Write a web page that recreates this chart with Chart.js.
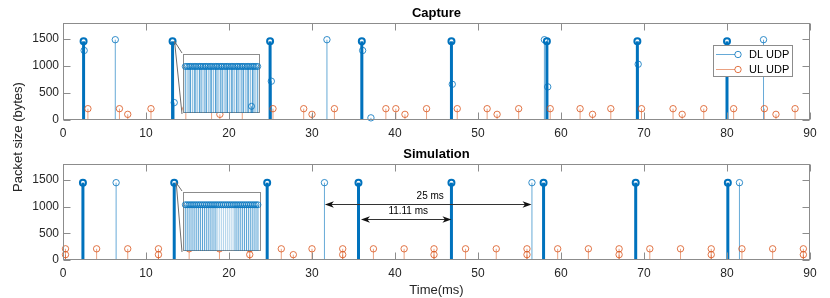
<!DOCTYPE html>
<html lang="en">
<head>
  <meta charset="UTF-8">
  <title>DL / UL UDP packets - capture vs simulation</title>
  <style>
    body { margin: 0; background: #fff; }
    #wrap { position: relative; width: 830px; height: 298px; }
    #wrap canvas { position: absolute; left: 0; top: 0; }
  </style>
  <script src="https://cdn.jsdelivr.net/npm/chart.js"></script>
</head>
<body>
  <div id="wrap">
    <canvas id="capChart" width="830" height="298"></canvas>
    <canvas id="simChart" width="830" height="298"></canvas>
    <canvas id="capInset"></canvas>
    <canvas id="simInset"></canvas>
  </div>

  <script>
    const xTicks = [0, 10, 20, 30, 40, 50, 60, 70, 80, 90];
    const yTicks = [0, 500, 1000, 1500];
    const seriesNames = ['DL UDP', 'UL UDP'];

    // Capture: DL bursts (many packets stacked), other DL packets, UL packets
    const capBurstT = [2.48, 13.2, 24.95, 36.0, 46.8, 58.3, 69.2, 80.0];
    const capBurstSize = [1460, 1460, 1460, 1460, 1460, 1460, 1460, 1460];
    const capDlT = [6.3, 31.8, 58.0, 84.4, 2.55, 13.4, 25.1, 36.1, 37.1, 46.9, 58.4, 69.3];
    const capDlSize = [1490, 1490, 1490, 1490, 1290, 323, 720, 1290, 40, 663, 615, 1035];
    const capUlT = [3.0, 6.8, 7.8, 10.6, 14.8, 17.9, 18.9, 21.6, 25.3, 29.0, 30.0, 32.7, 38.9, 40.1, 41.2, 43.8,
                    47.5, 51.1, 52.3, 54.9, 58.7, 62.3, 63.8, 66.0, 69.7, 73.5, 74.6, 77.2, 80.8, 84.5, 85.9, 88.2];
    const capUlSize = [210, 210, 105, 210, 210, 210, 105, 210, 210, 210, 105, 210, 210, 210, 105, 210,
                       210, 210, 105, 210, 210, 210, 105, 210, 210, 210, 105, 210, 210, 210, 105, 210];

    // Simulation
    const simBurstT = [2.4, 13.4, 24.6, 35.6, 46.8, 57.9, 69.0, 80.1];
    const simBurstSize = [1450, 1450, 1450, 1450, 1450, 1450, 1450, 1450];
    const simDlT = [6.4, 31.5, 56.5, 81.5];
    const simDlSize = [1450, 1450, 1450, 1450];
    const simUlT = [0.3, 4.05, 7.8, 11.5, 15.2, 18.85, 22.5, 26.3, 30.0, 33.7, 37.4, 41.1, 44.7, 48.5, 52.2,
                    55.9, 59.6, 63.3, 67.0, 70.7, 74.4, 78.1, 81.8, 85.5, 89.2,
                    0.3, 11.5, 22.5, 27.75, 33.7, 44.7, 55.9, 67.0, 78.1, 89.2];
    const simUlSize = [210, 210, 210, 210, 210, 210, 210, 210, 210, 210, 210, 210, 210, 210, 210,
                       210, 210, 210, 210, 210, 210, 210, 210, 210, 210,
                       100, 100, 100, 100, 100, 100, 100, 100, 100, 100];

    // period annotations on the simulation panel
    const arrowFrom = [31.55, 35.9];
    const arrowTo = [56.45, 46.8];
    const arrowAt = [1050, 760];
    const arrowText = ['25 ms', '11.11 ms'];

    // zoomed view of one burst (relative position inside the burst, 0..100)
    const capInsetT = [2, 4.5, 7, 9, 11.5, 14, 16, 18.5, 21, 23, 25.5, 28, 30, 32.5, 35, 37, 39.5, 42, 44, 46.5, 49,
                       51, 53.5, 56, 58, 60.5, 63, 65, 67.5, 70, 72, 74.5, 77, 79, 81.5, 84, 86, 88.5, 91, 93, 95.5, 98, 89.8];
    const capInsetSize = [1460, 1460, 1460, 1460, 1460, 1460, 1460, 1460, 1460, 1460, 1460, 1460, 1460, 1460, 1460,
                          1460, 1460, 1460, 1460, 1460, 1460, 1460, 1460, 1460, 1460, 1460, 1460, 1460, 1460, 1460,
                          1460, 1460, 1460, 1460, 1460, 1460, 1460, 1460, 1460, 1460, 1460, 1460, 210];
    const simInsetT = [2, 4.5, 7, 9.5, 12, 14.5, 17, 19.5, 22, 24.5, 27, 29.5, 32, 34.5, 37, 39.5, 42, 44.5, 47, 49.5,
                       52, 54.5, 57, 59.5, 62, 64.5, 67, 69.5, 72, 74.5, 77, 79.5, 82, 84.5, 87, 89.5, 92, 94.5, 97];
    const simInsetSize = [1450, 1450, 1450, 1450, 1450, 1450, 1450, 1450, 1450, 1450, 1450, 1450, 1450,
                          1450, 1450, 1450, 1450, 1450, 1450, 1450, 1450, 1450, 1450, 1450, 1450, 1450,
                          1450, 1450, 1450, 1450, 1450, 1450, 1450, 1450, 1450, 1450, 1450, 1450, 1450];

    const FONT = '"Liberation Sans", Arial, Helvetica, sans-serif';
    const AXIS = '#8c8c8c';
    const TEXT = '#262626';
    const BLUE = '#0072BD';
    const BLUE_THIN = 'rgba(0,114,189,0.6)';
    const BLUE_MARK = 'rgba(0,114,189,0.8)';
    const ORANGE_THIN = 'rgba(217,83,25,0.55)';
    const ORANGE_MARK = 'rgba(217,83,25,0.8)';

    const capInsetBox = { left: 182, top: 53, width: 79, height: 61 };
    const simInsetBox = { left: 182, top: 191, width: 80, height: 61 };

    const pts = (t, v) => t.map((x, i) => ({ x: x, y: v[i] }));

    // vertical stem from y=0 up to each point
    const stemPlugin = {
      id: 'stems',
      beforeDatasetsDraw(chart) {
        const ctx = chart.ctx;
        const base = chart.scales.y.getPixelForValue(0);
        chart.data.datasets.forEach((ds, i) => {
          const meta = chart.getDatasetMeta(i);
          ctx.save();
          ctx.lineWidth = ds.stemWidth || 1;
          meta.data.forEach((p, j) => {
            ctx.strokeStyle = typeof ds.stemColor === 'function' ? ds.stemColor(j) : ds.stemColor;
            ctx.beginPath();
            ctx.moveTo(p.x, base);
            ctx.lineTo(p.x, p.y);
            ctx.stroke();
          });
          ctx.restore();
        });
      }
    };

    // box with inward ticks on all four sides
    const axesBox = {
      id: 'axesBox',
      afterDraw(chart) {
        const { ctx, chartArea: a, scales: { x, y } } = chart;
        const L = a.left + 0.5, R = a.right - 0.5, T = a.top + 0.5, B = a.bottom - 0.5;
        ctx.save();
        ctx.strokeStyle = AXIS;
        ctx.lineWidth = 1;
        ctx.strokeRect(L, T, R - L, B - T);
        ctx.beginPath();
        xTicks.forEach(v => {
          const px = Math.round(x.getPixelForValue(v)) + 0.5;
          ctx.moveTo(px, B); ctx.lineTo(px, B - 7);
          ctx.moveTo(px, T); ctx.lineTo(px, T + 7);
        });
        yTicks.forEach(v => {
          const py = Math.round(y.getPixelForValue(v)) + 0.5;
          ctx.moveTo(L, py); ctx.lineTo(L + 7, py);
          ctx.moveTo(R, py); ctx.lineTo(R - 7, py);
        });
        ctx.stroke();
        ctx.restore();
      }
    };

    function panelText(title, drawMore) {
      return {
        id: 'panelText',
        afterDraw(chart) {
          const { ctx, chartArea: a } = chart;
          ctx.save();
          ctx.fillStyle = '#000';
          ctx.font = 'bold 13px ' + FONT;
          ctx.textAlign = 'center';
          ctx.textBaseline = 'middle';
          ctx.fillText(title, (a.left + a.right) / 2, a.top - 10);
          ctx.restore();
          if (drawMore) drawMore(chart);
        }
      };
    }

    // lines from the burst marker to the inset's left corners
    function connector(chart, burstIndex, box) {
      const p = chart.getDatasetMeta(0).data[burstIndex];
      const ctx = chart.ctx;
      ctx.save();
      ctx.strokeStyle = '#6e6e6e';
      ctx.lineWidth = 1;
      ctx.beginPath();
      ctx.moveTo(p.x + 2, p.y);
      ctx.lineTo(box.left, box.top);
      ctx.moveTo(p.x + 2, p.y);
      ctx.lineTo(box.left, box.top + box.height);
      ctx.stroke();
      ctx.restore();
    }

    function stemSets(burstT, burstV, dlT, dlV, ulT, ulV) {
      return [
        { data: pts(burstT, burstV), stemColor: BLUE, stemWidth: 3, pointRadius: 3, pointBorderWidth: 2,
          pointBorderColor: BLUE, pointBackgroundColor: 'rgba(0,0,0,0)', clip: false },
        { data: pts(dlT, dlV), stemColor: BLUE_THIN, stemWidth: 1, pointRadius: 3.2, pointBorderWidth: 1,
          pointBorderColor: BLUE_MARK, pointBackgroundColor: 'rgba(0,0,0,0)', clip: false },
        { data: pts(ulT, ulV), stemColor: ORANGE_THIN, stemWidth: 1, pointRadius: 3.2, pointBorderWidth: 1,
          pointBorderColor: ORANGE_MARK, pointBackgroundColor: 'rgba(0,0,0,0)', clip: false }
      ];
    }

    function mainOptions(padTop, padBottom, axisH) {
      return {
        responsive: false,
        animation: false,
        events: [],
        layout: { padding: { top: padTop, right: 20, bottom: padBottom, left: 0 } },
        plugins: { legend: { display: false }, tooltip: { enabled: false } },
        scales: {
          x: {
            type: 'linear', min: 0, max: 90,
            grid: { display: false, drawTicks: false }, border: { display: false },
            ticks: { padding: 6, color: TEXT, autoSkip: false, maxRotation: 0, font: { size: 12, family: FONT },
                     callback: v => String(v) },
            afterBuildTicks: s => { s.ticks = xTicks.map(v => ({ value: v })); },
            afterFit: s => { s.height = axisH; }
          },
          y: {
            min: 0, max: 1800,
            grid: { display: false, drawTicks: false }, border: { display: false },
            ticks: { padding: 4, color: TEXT, font: { size: 12, family: FONT }, callback: v => String(v) },
            afterBuildTicks: s => { s.ticks = yTicks.map(v => ({ value: v })); },
            afterFit: s => { s.width = 63; }
          }
        }
      };
    }

    // Capture panel
    new Chart(document.getElementById('capChart'), {
      type: 'scatter',
      data: { datasets: stemSets(capBurstT, capBurstSize, capDlT, capDlSize, capUlT, capUlSize) },
      options: mainOptions(23, 158, 20),
      plugins: [stemPlugin, axesBox, panelText('Capture', chart => {
        connector(chart, 1, capInsetBox);
        const ctx = chart.ctx;
        ctx.save();
        ctx.fillStyle = '#fff';
        ctx.strokeStyle = AXIS;
        ctx.lineWidth = 1;
        ctx.fillRect(713.5, 45.5, 79, 31);
        ctx.strokeRect(713.5, 45.5, 79, 31);
        [[BLUE_THIN, BLUE_MARK], [ORANGE_THIN, ORANGE_MARK]].forEach((c, i) => {
          const yy = 54.5 + i * 15;
          ctx.strokeStyle = c[0];
          ctx.beginPath(); ctx.moveTo(716, yy); ctx.lineTo(735, yy); ctx.stroke();
          ctx.strokeStyle = c[1];
          ctx.beginPath(); ctx.arc(738, yy, 3.2, 0, Math.PI * 2); ctx.stroke();
          ctx.fillStyle = '#000';
          ctx.font = '11px ' + FONT;
          ctx.textAlign = 'left';
          ctx.textBaseline = 'middle';
          ctx.fillText(seriesNames[i], 749, yy + 0.5);
        });
        ctx.restore();
      })]
    });

    // Simulation panel
    new Chart(document.getElementById('simChart'), {
      type: 'scatter',
      data: { datasets: stemSets(simBurstT, simBurstSize, simDlT, simDlSize, simUlT, simUlSize) },
      options: mainOptions(164, 0, 38),
      plugins: [stemPlugin, axesBox, panelText('Simulation', chart => {
        connector(chart, 1, simInsetBox);
        const { ctx, chartArea: a, scales: { x, y } } = chart;
        ctx.save();
        arrowFrom.forEach((f, i) => {
          const x1 = x.getPixelForValue(f), x2 = x.getPixelForValue(arrowTo[i]);
          const yy = Math.round(y.getPixelForValue(arrowAt[i])) + 0.5;
          ctx.strokeStyle = '#333';
          ctx.fillStyle = '#111';
          ctx.lineWidth = 1;
          ctx.beginPath(); ctx.moveTo(x1 + 4, yy); ctx.lineTo(x2 - 4, yy); ctx.stroke();
          ctx.beginPath(); ctx.moveTo(x1, yy); ctx.lineTo(x1 + 9, yy - 3.2); ctx.lineTo(x1 + 6.5, yy); ctx.lineTo(x1 + 9, yy + 3.2); ctx.closePath(); ctx.fill();
          ctx.beginPath(); ctx.moveTo(x2, yy); ctx.lineTo(x2 - 9, yy - 3.2); ctx.lineTo(x2 - 6.5, yy); ctx.lineTo(x2 - 9, yy + 3.2); ctx.closePath(); ctx.fill();
          ctx.fillStyle = '#000';
          ctx.font = '10px ' + FONT;
          ctx.textAlign = 'center';
          ctx.textBaseline = 'middle';
          ctx.fillText(arrowText[i], (x1 + x2) / 2 + 2, yy - 8);
        });
        ctx.fillStyle = TEXT;
        ctx.font = '13px ' + FONT;
        ctx.textAlign = 'center';
        ctx.textBaseline = 'middle';
        ctx.fillText('Time(ms)', (a.left + a.right) / 2, 290);
        ctx.translate(18, 137);
        ctx.rotate(-Math.PI / 2);
        ctx.fillText('Packet size (bytes)', 0, 0);
        ctx.restore();
      })]
    });

    // inset axes: white box with frame, stems inside
    const insetFrame = {
      id: 'insetFrame',
      beforeDraw(chart) {
        const { ctx, chartArea: a } = chart;
        ctx.save();
        ctx.fillStyle = '#fff';
        ctx.fillRect(a.left, a.top, a.right - a.left, a.bottom - a.top);
        ctx.strokeStyle = AXIS;
        ctx.lineWidth = 1;
        ctx.strokeRect(a.left + 0.5, a.top + 0.5, a.right - a.left - 1, a.bottom - a.top - 1);
        ctx.restore();
      }
    };

    function insetChart(id, box, t, v, stemColor) {
      const m = 4;
      const cv = document.getElementById(id);
      cv.width = box.width + 2 * m;
      cv.height = box.height + 2 * m;
      cv.style.left = (box.left - m) + 'px';
      cv.style.top = (box.top - m) + 'px';
      return new Chart(cv, {
        type: 'scatter',
        data: { datasets: [{ data: pts(t, v), stemColor: stemColor, stemWidth: 1, pointRadius: 3, pointBorderWidth: 1,
                             pointBorderColor: BLUE_MARK, pointBackgroundColor: 'rgba(0,0,0,0)', clip: false }] },
        options: {
          responsive: false, animation: false, events: [],
          layout: { padding: m },
          plugins: { legend: { display: false }, tooltip: { enabled: false } },
          scales: { x: { display: false, min: -1, max: 101 }, y: { display: false, min: 0, max: 1850 } }
        },
        plugins: [insetFrame, stemPlugin]
      });
    }

    insetChart('capInset', capInsetBox, capInsetT, capInsetSize,
      j => (j % 3 === 1 ? 'rgba(0,114,189,0.45)' : 'rgba(0,114,189,0.7)'));
    insetChart('simInset', simInsetBox, simInsetT, simInsetSize,
      j => (simInsetT[j] > 44 && simInsetT[j] < 66 ? 'rgba(0,114,189,0.3)' : 'rgba(0,114,189,0.65)'));
  </script>
</body>
</html>
